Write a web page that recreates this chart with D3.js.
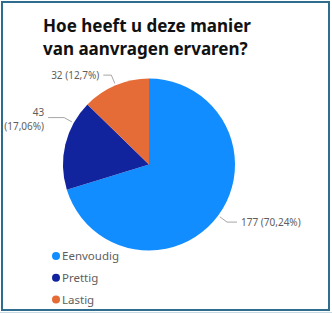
<!DOCTYPE html>
<html>
<head>
<meta charset="utf-8">
<script src="https://cdn.jsdelivr.net/npm/d3@7"></script>
<style>
  html, body { margin: 0; padding: 0; background: #ffffff; }
  svg { display: block; }
</style>
</head>
<body>
<svg id="chart" width="332" height="313"></svg>
<script>
// ---- data ----
const categories = ["Eenvoudig", "Prettig", "Lastig"];
const values = [177, 43, 32];
const percentLabels = ["70,24%", "17,06%", "12,7%"];
const colors = ["#118DFF", "#12239E", "#E66C37"];
const titleLines = ["Hoe heeft u deze manier", "van aanvragen ervaren?"];

const W = 332, H = 313;
const svg = d3.select("#chart");
const font = "'Noto Sans', 'Open Sans', sans-serif";

// frame
svg.append("rect").attr("x", 0).attr("y", 0).attr("width", W).attr("height", H).attr("fill", "#fff");
svg.append("rect").attr("x", 0).attr("y", 312).attr("width", W).attr("height", 1).attr("fill", "#c9d9e3");
svg.append("rect").attr("x", 2).attr("y", 2).attr("width", 327).attr("height", 308)
  .attr("fill", "none").attr("stroke", "#2f6d8f").attr("stroke-width", 2);

// title (fit width)
const title = svg.append("g");
const titleWidth = 208;
titleLines.forEach((t, i) => {
  const el = title.append("text")
    .attr("x", 43).attr("y", 32 + i * 23)
    .attr("font-family", font).attr("font-weight", "bold")
    .attr("font-size", 100).attr("fill", "#111").text(t);
  if (i === 0) {
    const len = el.node().getComputedTextLength();
    title.attr("data-fs", 100 * titleWidth / len);
  }
});
const tfs = +title.attr("data-fs");
title.selectAll("text").attr("font-size", tfs);

// pie
const cx = 149, cy = 164.5, r = 86;
const pie = d3.pie().sort(null).value(d => d.v);
const arc = d3.arc().innerRadius(0).outerRadius(r);
const data = categories.map((c, i) => ({ c, v: values[i], p: percentLabels[i], color: colors[i], i }));
const arcs = pie(data);

const g = svg.append("g").attr("transform", `translate(${cx},${cy})`);
g.selectAll("path").data(arcs).join("path")
  .attr("d", arc).attr("fill", d => d.data.color);

// labels with leader lines
const labelFrac = [0.5, 0.75, 0.5];   // where along the slice the leader starts
const hLen = [10, 16, 8];
const labelColor = "#605E5C";
const lblFs = 10;
arcs.forEach((a, i) => {
  const ang = a.startAngle + (a.endAngle - a.startAngle) * labelFrac[i];
  const p0 = [Math.sin(ang) * (r + 2), -Math.cos(ang) * (r + 2)];
  const p1 = [Math.sin(ang) * (r + 11), -Math.cos(ang) * (r + 11)];
  const right = Math.sin(ang) > 0;
  const p2 = [p1[0] + (right ? hLen[i] : -hLen[i]), p1[1]];
  g.append("polyline")
    .attr("points", [p0, p1, p2].map(p => p.join(",")).join(" "))
    .attr("fill", "none").attr("stroke", "#a6a6a6").attr("stroke-width", 1);
  const tx = p2[0] + (right ? 4 : -4);
  const anchor = right ? "start" : "end";
  const full = `${a.data.v} (${a.data.p})`;
  if (i === 1) {
    const t = g.append("text").attr("font-family", font).attr("font-size", lblFs)
      .attr("fill", labelColor).attr("text-anchor", anchor);
    t.append("tspan").attr("x", tx).attr("y", p2[1] - 1.5).text(`${a.data.v}`);
    t.append("tspan").attr("x", tx).attr("y", p2[1] + 12).text(`(${a.data.p})`);
  } else {
    g.append("text").attr("x", tx).attr("y", p2[1] + 3.5)
      .attr("font-family", font).attr("font-size", lblFs)
      .attr("fill", labelColor).attr("text-anchor", anchor).text(full);
  }
});

// legend
const leg = svg.append("g");
categories.forEach((c, i) => {
  const y = 256 + i * 21.8;
  leg.append("circle").attr("cx", 56).attr("cy", y).attr("r", 4).attr("fill", colors[i]);
  leg.append("text").attr("x", 62).attr("y", y + 4)
    .attr("font-family", font).attr("font-size", 11.5)
    .attr("fill", labelColor).text(c);
});
</script>
</body>
</html>
